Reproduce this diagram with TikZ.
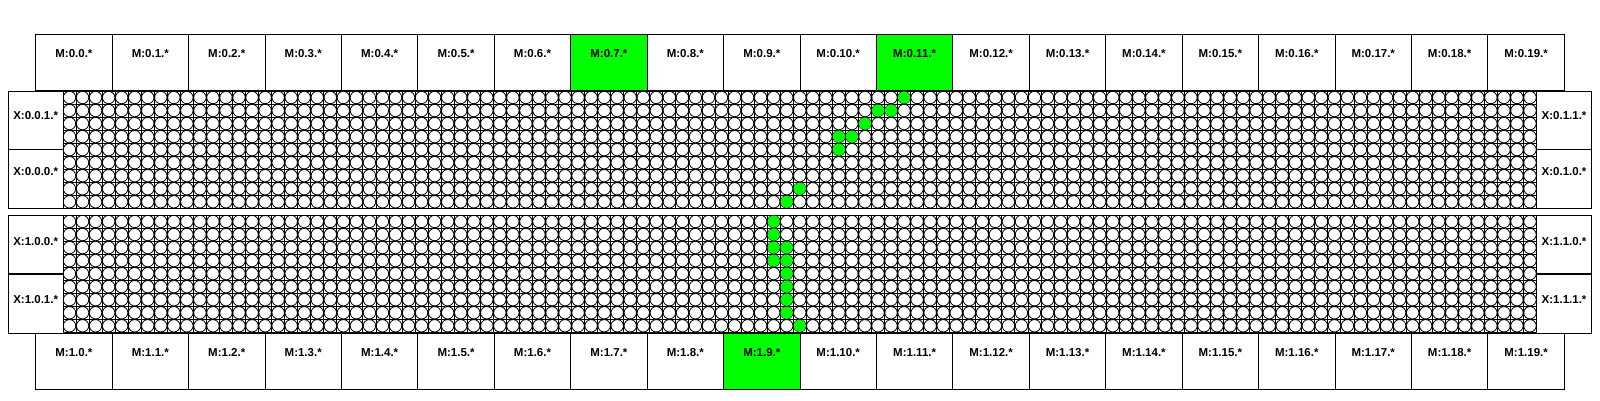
\documentclass[tikz,border=0pt]{standalone}
\usepackage{fontspec}
\setmainfont{Liberation Sans}
\usetikzlibrary{calc}
\definecolor{hl}{RGB}{0,255,0}
\begin{document}
\begin{tikzpicture}[x=1pt,y=-1pt,
  box/.style={draw=black,line width=0.9pt,inner sep=0pt,outer sep=0pt},
  mbox/.style={box,anchor=north west,minimum width=76.43pt,minimum height=56.4pt},
  xbox/.style={box,anchor=north west,minimum width=54.7pt,minimum height=58.65pt},
  lbl/.style={font=\fontsize{11.5}{13}\selectfont\bfseries,inner sep=0pt},
  cell/.style={line width=0.8pt,draw=black,fill=white},
  gridline/.style={line width=0.9pt,draw=black},
  hot/.style={fill=hl}]
\useasboundingbox (0,0) rectangle (1600,400);
% M rows
\foreach \i in {0,...,19}{
  \pgfmathsetmacro\xx{35.7+76.43*\i}
  \ifnum\i=7 \def\fc{hl}\else\ifnum\i=11 \def\fc{hl}\else\def\fc{white}\fi\fi
  \node[mbox,fill=\fc] (mt\i) at (\xx,34.3) {};
  \node[lbl] (mtl\i) at ($(mt\i.north)+(0,19.5)$) {M:0.\i.*};
  \ifnum\i=9 \def\fb{hl}\else\def\fb{white}\fi
  \node[mbox,fill=\fb] (mb\i) at (\xx,333.3) {};
  \node[lbl] (mbl\i) at ($(mb\i.north)+(0,19.5)$) {M:1.\i.*};
}
% X boxes
\node[xbox] (xl01) at (8.3,91) {};
\node[lbl] (xl01t) at ($(xl01.north)+(0,25)$) {X:0.0.1.*};
\node[xbox] (xl00) at (8.3,149.65) {};
\node[lbl] (xl00t) at ($(xl00.north)+(0,22)$) {X:0.0.0.*};
\node[xbox] (xr01) at (1536.7,91) {};
\node[lbl] (xr01t) at ($(xr01.north)+(0,25)$) {X:0.1.1.*};
\node[xbox] (xr00) at (1536.7,149.65) {};
\node[lbl] (xr00t) at ($(xr00.north)+(0,22)$) {X:0.1.0.*};
\node[xbox] (xl10) at (8.3,215) {};
\node[lbl] (xl10t) at ($(xl10.north)+(0,27)$) {X:1.0.0.*};
\node[xbox] (xl11) at (8.3,274.65) {};
\node[lbl] (xl11t) at ($(xl11.north)+(0,25)$) {X:1.0.1.*};
\node[xbox] (xr10) at (1536.7,215) {};
\node[lbl] (xr10t) at ($(xr10.north)+(0,27)$) {X:1.1.0.*};
\node[xbox] (xr11) at (1536.7,274.65) {};
\node[lbl] (xr11t) at ($(xr11.north)+(0,25)$) {X:1.1.1.*};
% grids
\foreach \top in {91,215}{
  \fill[white] (63,\top) rectangle (1536.7,\top+117.3);
  \draw[gridline] foreach \c in {1,...,112}{ ({63+13.04*\c},\top) -- ++(0,117.3) }
                  foreach \r in {1,...,8}{ (63,{\top+13.033*\r}) -- (1536.7,{\top+13.033*\r}) };
  \draw[cell] foreach \c in {0,...,112}{ foreach \r in {0,...,8}{ ({63+13.04*(\c+0.5)},{\top+13.033*(\r+0.5)}) circle (6.2) } };
  \draw[line width=0.9pt] (63,\top) rectangle (1536.7,\top+117.3);
}
% highlighted circles
\foreach \c/\r in {64/0,62/1,63/1,61/2,59/3,60/3,59/4,56/7,55/8}{
  \fill[hot] ({63+13.04*(\c+0.5)},{91+13.033*(\r+0.5)}) circle (6.1);
}
\foreach \c/\r in {54/0,54/1,54/2,55/2,54/3,55/3,55/4,55/5,55/6,55/7,56/8}{
  \fill[hot] ({63+13.04*(\c+0.5)},{215+13.033*(\r+0.5)}) circle (6.1);
}
\end{tikzpicture}
\end{document}
